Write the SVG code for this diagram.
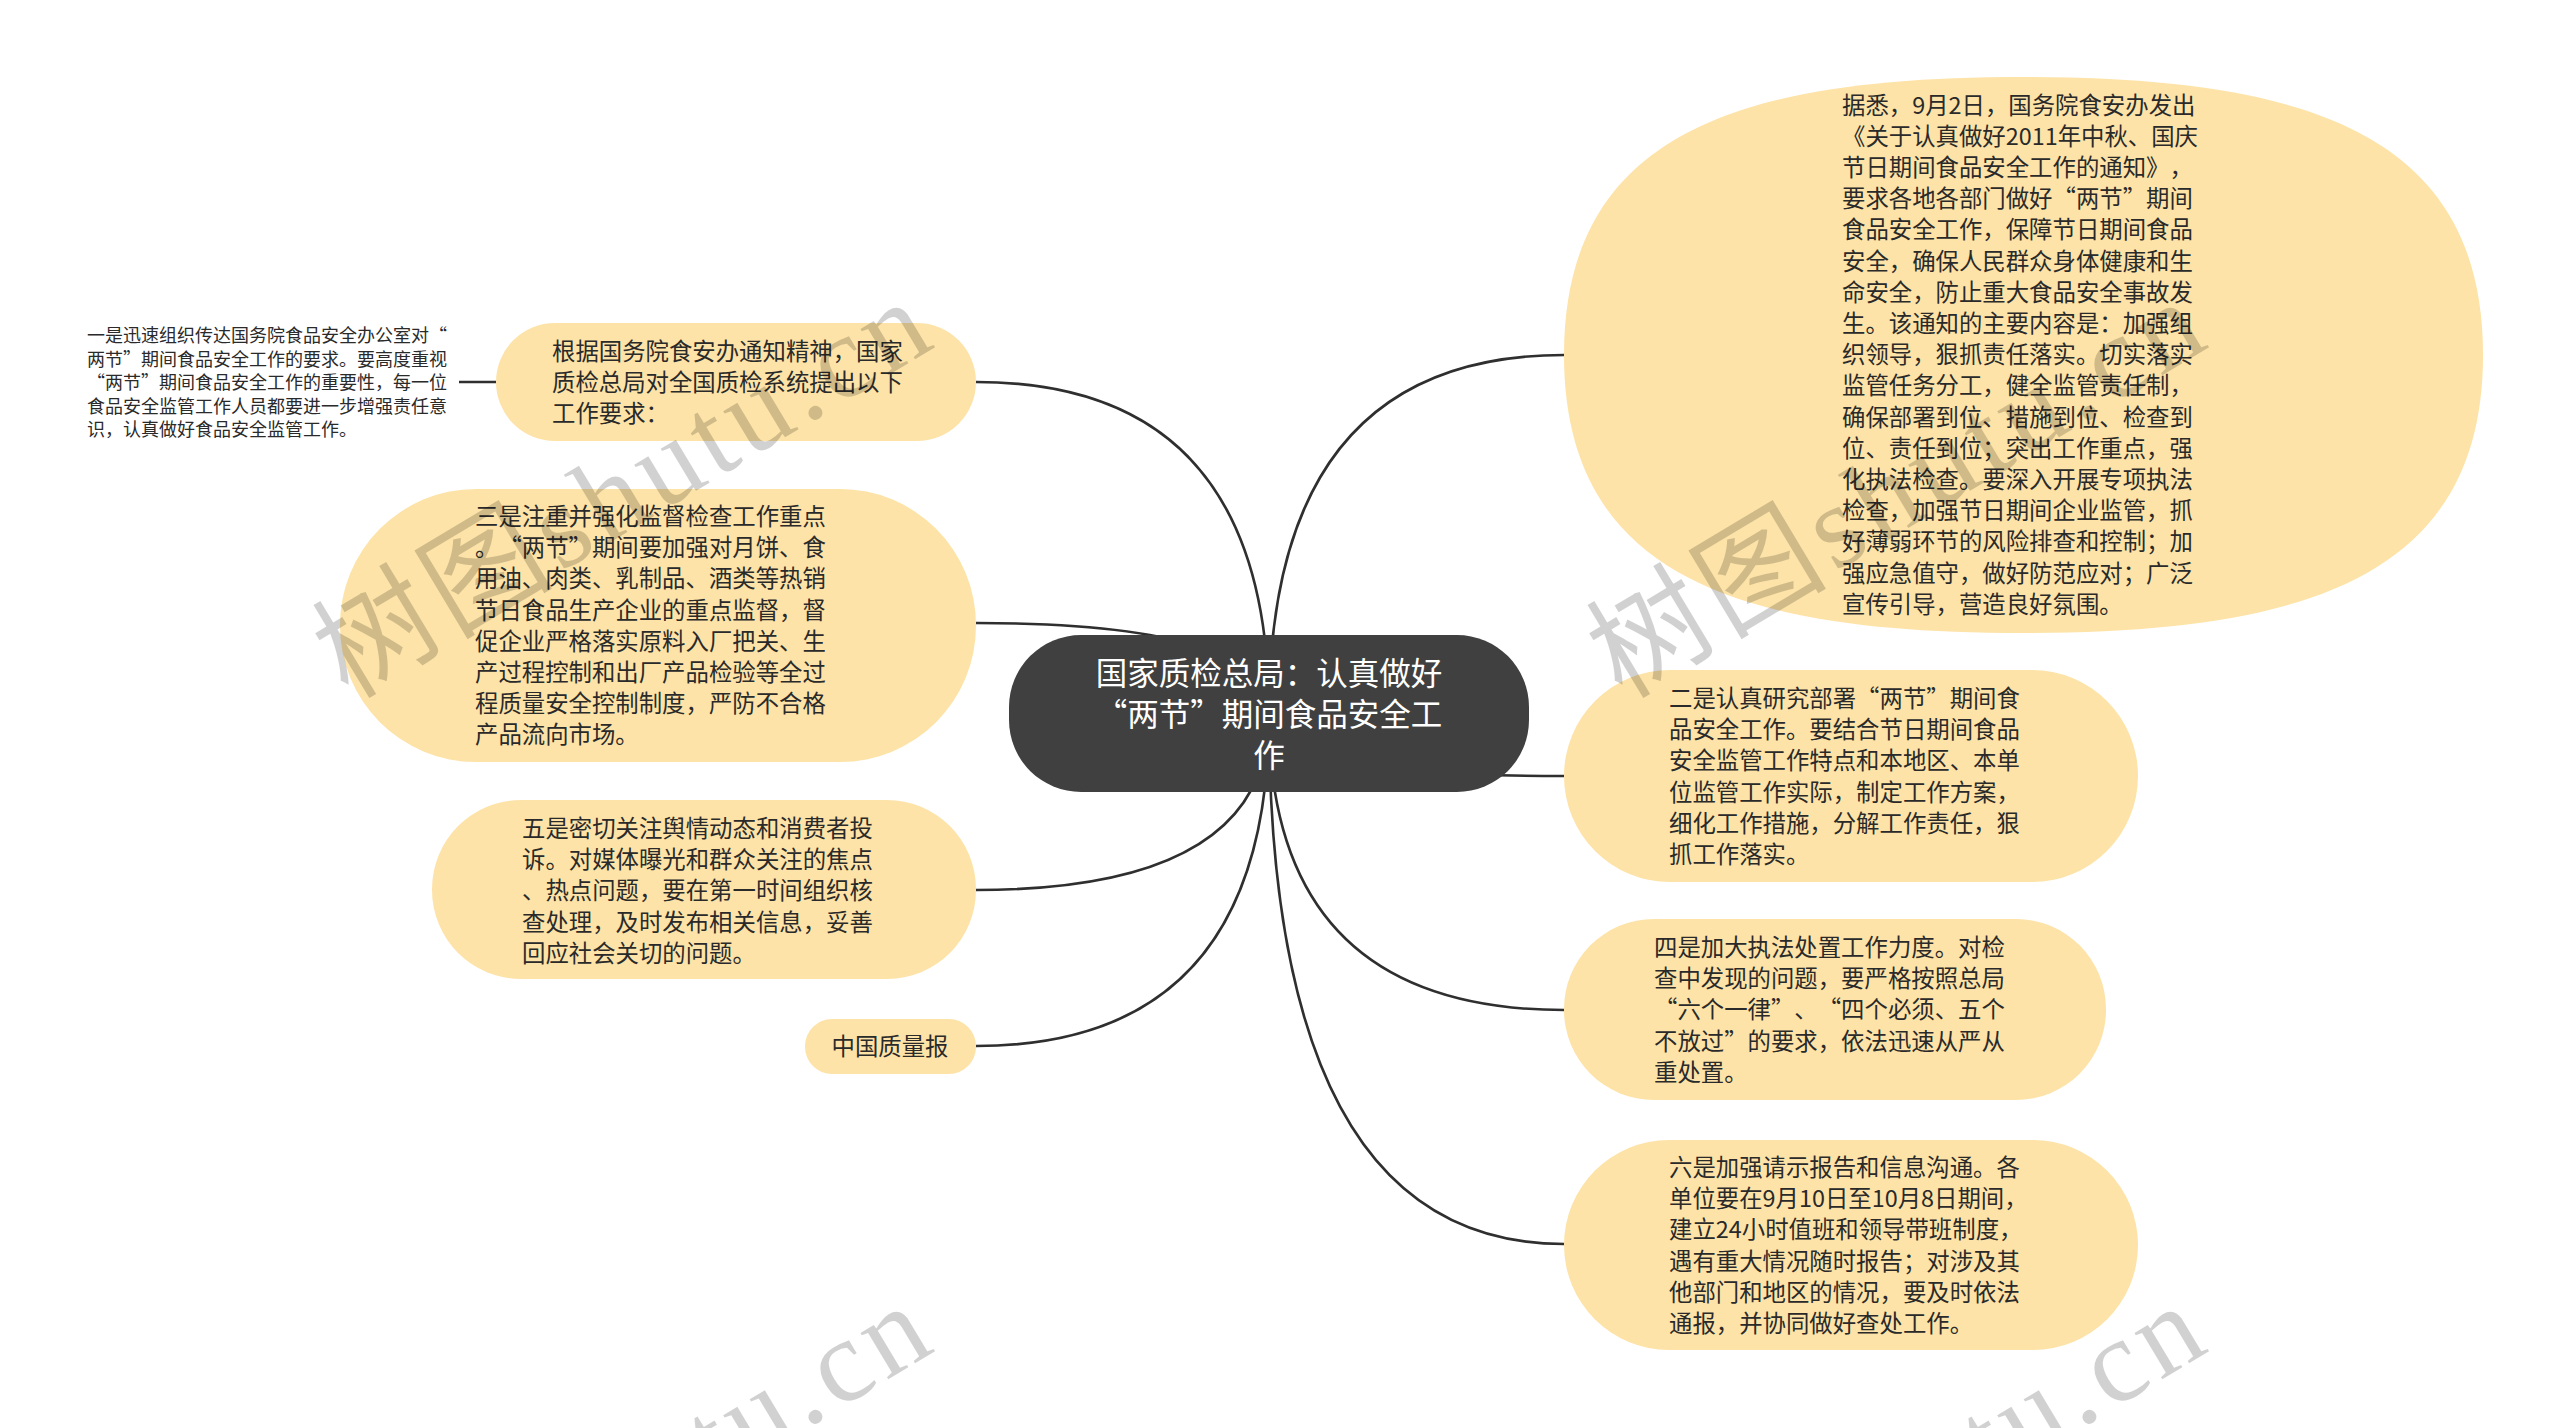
<svg xmlns="http://www.w3.org/2000/svg" width="2560" height="1428" viewBox="0 0 2560 1428">
<style>
.bg{fill:#ffffff}
.leaf{fill:#fde3a7}
.root{fill:#404040}
.conn{fill:none;stroke:#2f2f2f;stroke-width:2.6}
text{text-spacing-trim:space-all}
.t{font-family:"Noto Sans CJK SC","Noto Sans",sans-serif;font-size:23.4px;fill:#2a2a2a}
.ts{font-family:"Noto Sans CJK SC","Noto Sans",sans-serif;font-size:18px;fill:#2a2a2a}
.tr{font-family:"Noto Sans CJK SC","Noto Sans",sans-serif;font-size:31.5px;fill:#ffffff}
.wm{font-family:"Liberation Serif","Noto Sans CJK SC",serif;font-size:118px;letter-spacing:6px;fill:#000000;fill-opacity:0.18}
</style>
<rect class="bg" x="0" y="0" width="2560" height="1428"/>
<g id="connectors">
<path class="conn" d="M1269 714 Q1269 355 1564 355"/>
<path class="conn" d="M1269 714 Q1269 776 1564 776"/>
<path class="conn" d="M1269 714 Q1269 1010 1564 1010"/>
<path class="conn" d="M1269 714 Q1269 1244 1564 1244"/>
<path class="conn" d="M1269 714 Q1269 382 976 382"/>
<path class="conn" d="M1269 714 Q1269 623 976 623"/>
<path class="conn" d="M1269 714 Q1269 890 976 890"/>
<path class="conn" d="M1269 714 Q1269 1046 976 1046"/>
<path class="conn" d="M459 382 L496 382"/>
</g>
<g id="root">
<rect class="root" x="1009" y="635" width="520" height="157" rx="72"/>
<text class="tr" text-anchor="middle"><tspan x="1269" y="685">国家质检总局：认真做好</tspan><tspan x="1269" dy="41">“两节”期间食品安全工</tspan><tspan x="1269" dy="41">作</tspan></text>
</g>
<g id="node-notice">
<path class="leaf" d="M1564 355 C1564 133 1740 77 2023 77 C2306 77 2483 133 2483 355 C2483 577 2306 633 2023 633 C1740 633 1564 577 1564 355 Z"/>
<text class="t"><tspan x="1842" y="113.5">据悉，9月2日，国务院食安办发出</tspan><tspan x="1842" dy="31.2">《关于认真做好2011年中秋、国庆</tspan><tspan x="1842" dy="31.2">节日期间食品安全工作的通知》，</tspan><tspan x="1842" dy="31.2">要求各地各部门做好“两节”期间</tspan><tspan x="1842" dy="31.2">食品安全工作，保障节日期间食品</tspan><tspan x="1842" dy="31.2">安全，确保人民群众身体健康和生</tspan><tspan x="1842" dy="31.2">命安全，防止重大食品安全事故发</tspan><tspan x="1842" dy="31.2">生。该通知的主要内容是：加强组</tspan><tspan x="1842" dy="31.2">织领导，狠抓责任落实。切实落实</tspan><tspan x="1842" dy="31.2">监管任务分工，健全监管责任制，</tspan><tspan x="1842" dy="31.2">确保部署到位、措施到位、检查到</tspan><tspan x="1842" dy="31.2">位、责任到位；突出工作重点，强</tspan><tspan x="1842" dy="31.2">化执法检查。要深入开展专项执法</tspan><tspan x="1842" dy="31.2">检查，加强节日期间企业监管，抓</tspan><tspan x="1842" dy="31.2">好薄弱环节的风险排查和控制；加</tspan><tspan x="1842" dy="31.2">强应急值守，做好防范应对；广泛</tspan><tspan x="1842" dy="31.2">宣传引导，营造良好氛围。</tspan></text>
</g>
<g id="node-2">
<rect class="leaf" x="1564" y="670" width="574" height="212" rx="106"/>
<text class="t"><tspan x="1669" y="707">二是认真研究部署“两节”期间食</tspan><tspan x="1669" dy="31.2">品安全工作。要结合节日期间食品</tspan><tspan x="1669" dy="31.2">安全监管工作特点和本地区、本单</tspan><tspan x="1669" dy="31.2">位监管工作实际，制定工作方案，</tspan><tspan x="1669" dy="31.2">细化工作措施，分解工作责任，狠</tspan><tspan x="1669" dy="31.2">抓工作落实。</tspan></text>
</g>
<g id="node-4">
<rect class="leaf" x="1564" y="919" width="542" height="181" rx="90"/>
<text class="t"><tspan x="1654" y="956">四是加大执法处置工作力度。对检</tspan><tspan x="1654" dy="31.2">查中发现的问题，要严格按照总局</tspan><tspan x="1654" dy="31.2">“六个一律”、“四个必须、五个</tspan><tspan x="1654" dy="31.2">不放过”的要求，依法迅速从严从</tspan><tspan x="1654" dy="31.2">重处置。</tspan></text>
</g>
<g id="node-6">
<rect class="leaf" x="1564" y="1140" width="574" height="210" rx="105"/>
<text class="t"><tspan x="1669" y="1176">六是加强请示报告和信息沟通。各</tspan><tspan x="1669" dy="31.2">单位要在9月10日至10月8日期间，</tspan><tspan x="1669" dy="31.2">建立24小时值班和领导带班制度，</tspan><tspan x="1669" dy="31.2">遇有重大情况随时报告；对涉及其</tspan><tspan x="1669" dy="31.2">他部门和地区的情况，要及时依法</tspan><tspan x="1669" dy="31.2">通报，并协同做好查处工作。</tspan></text>
</g>
<g id="node-basis">
<rect class="leaf" x="496" y="323" width="480" height="118" rx="59"/>
<text class="t"><tspan x="552" y="360">根据国务院食安办通知精神，国家</tspan><tspan x="552" dy="31.2">质检总局对全国质检系统提出以下</tspan><tspan x="552" dy="31.2">工作要求：</tspan></text>
</g>
<g id="node-1">
<text class="ts"><tspan x="87" y="342">一是迅速组织传达国务院食品安全办公室对“</tspan><tspan x="87" dy="23.6">两节”期间食品安全工作的要求。要高度重视</tspan><tspan x="87" dy="23.6">“两节”期间食品安全工作的重要性，每一位</tspan><tspan x="87" dy="23.6">食品安全监管工作人员都要进一步增强责任意</tspan><tspan x="87" dy="23.6">识，认真做好食品安全监管工作。</tspan></text>
</g>
<g id="node-3">
<rect class="leaf" x="340" y="489" width="636" height="273" rx="136"/>
<text class="t"><tspan x="475" y="525">三是注重并强化监督检查工作重点</tspan><tspan x="475" dy="31.2">。“两节”期间要加强对月饼、食</tspan><tspan x="475" dy="31.2">用油、肉类、乳制品、酒类等热销</tspan><tspan x="475" dy="31.2">节日食品生产企业的重点监督，督</tspan><tspan x="475" dy="31.2">促企业严格落实原料入厂把关、生</tspan><tspan x="475" dy="31.2">产过程控制和出厂产品检验等全过</tspan><tspan x="475" dy="31.2">程质量安全控制制度，严防不合格</tspan><tspan x="475" dy="31.2">产品流向市场。</tspan></text>
</g>
<g id="node-5">
<rect class="leaf" x="432" y="800" width="544" height="179" rx="89"/>
<text class="t"><tspan x="522" y="837">五是密切关注舆情动态和消费者投</tspan><tspan x="522" dy="31.2">诉。对媒体曝光和群众关注的焦点</tspan><tspan x="522" dy="31.2">、热点问题，要在第一时间组织核</tspan><tspan x="522" dy="31.2">查处理，及时发布相关信息，妥善</tspan><tspan x="522" dy="31.2">回应社会关切的问题。</tspan></text>
</g>
<g id="node-source">
<rect class="leaf" x="805" y="1019" width="171" height="55" rx="27"/>
<text class="t" x="890" y="1055" text-anchor="middle">中国质量报</text>
</g>
<g id="watermarks">
<text class="wm" transform="translate(348 700) rotate(-31)">树图shutu.cn</text>
<text class="wm" transform="translate(1622 700) rotate(-31)">树图shutu.cn</text>
<text class="wm" transform="translate(348 1704) rotate(-31)">树图shutu.cn</text>
<text class="wm" transform="translate(1622 1704) rotate(-31)">树图shutu.cn</text>
</g>
</svg>
